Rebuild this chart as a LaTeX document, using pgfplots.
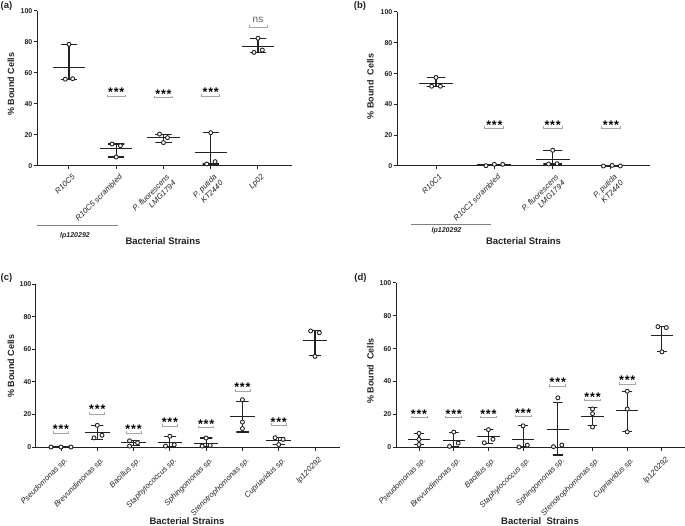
\documentclass[border=0pt]{standalone}
\usepackage{pgfplots}
\pgfplotsset{compat=1.18}
\usepackage{fontspec}
\setmainfont{Liberation Sans}
\definecolor{ink}{HTML}{222222}
\newcommand{\stars}{{\fontsize{12.5}{12.5}\selectfont\bfseries *\kern0.8pt*\kern0.8pt*}}
% #1 x, #2 star y, #3 bracket y, #4 bracket half width (pt)
\newcommand{\sig}[4]{%
  \draw[gray!70, line width=0.8pt] (axis cs:#1,#3) ++(-#4pt,2pt) -- ++(0pt,-2pt) -- ++(2*#4pt,0pt) -- ++(0pt,2pt);
  \node[inner sep=0pt, yshift=-2.5pt] at (axis cs:#1,#2) {\stars};}
\pgfplotsset{
  gp/.style={
    scale only axis, anchor=south west,
    axis x line=bottom, axis y line=left,
    axis line style={-, line width=1pt, ink},
    ymin=0, ymax=100, ytick={0,20,...,100}, minor tick num=0,
    tick align=outside, major tick length=3.5pt,
    tick style={line width=1pt, ink},
    clip=false,
    /pgf/number format/assume math mode=true,
    yticklabel style={font=\bfseries\fontsize{7}{8}\selectfont, inner sep=1pt, text=ink},
  },
  xtl/.style 2 args={xticklabel style={xshift=#1, yshift=#2, rotate=45, anchor=north east, align=right, inner sep=1pt, text=ink, font=\itshape\fontsize{7.8}{8.8}\selectfont}},
  pts/.style={only marks, mark=*, mark size=2pt, mark options={line width=0.9pt, draw=ink, fill=white}},
  frame/.style={ink, line width=1.1pt, mark=none, unbounded coords=jump},
}
\begin{document}
\begin{tikzpicture}
% ---------------- (a)
\begin{axis}[gp, xtl={2.5pt}{-2.5pt}, at={(37pt,359pt)}, width=255pt, height=155pt,
  xmin=-0.677, xmax=4.72, xtick={0,...,4},
  xticklabels={R10C5, R10C5 scrambled, {P. fluorescens\\LMG1794}, {P. putida\\KT2440}, Lp02}]
\addplot[frame] table {
x y
-0.17 78.5
0.17 78.5
0 78.5
0 56.0
-0.17 56.0
0.17 56.0
nan nan
-0.34 63.6
0.34 63.6
nan nan
0.83 14.2
1.17 14.2
1 14.2
1 5.8
0.83 5.8
1.17 5.8
nan nan
0.66 11.0
1.34 11.0
nan nan
1.83 20.6
2.17 20.6
2 20.6
2 15.1
1.83 15.1
2.17 15.1
nan nan
1.66 18.3
2.34 18.3
nan nan
2.83 21.5
3.17 21.5
3 21.5
3 1.3
2.83 1.3
3.17 1.3
nan nan
2.66 8.6
3.34 8.6
nan nan
3.83 82.4
4.17 82.4
4 82.4
4 73.3
3.83 73.3
4.17 73.3
nan nan
3.66 77.0
4.34 77.0
};
\addplot[pts] table {
x y
0 78.5
-0.078 56.0
0.078 56.3
0.912 14.2
1.088 13.1
1 5.8
1.915 20.6
2.085 18.3
2 15.1
3 21.5
2.915 1.3
3.092 2.8
4 82.4
3.915 73.3
4.092 74.8
};
\sig{1}{49}{44.7}{9}
\sig{2}{48}{44}{9}
\sig{3}{49}{45}{9}
\draw[gray!70, line width=0.8pt] (axis cs:4,89.5) ++(-9pt,2pt) -- ++(0pt,-2pt) -- ++(18pt,0pt) -- ++(0pt,2pt);
\node[text=gray!70!black, font=\fontsize{10}{10}\selectfont, inner sep=0pt] at (axis cs:4,94) {ns};
\end{axis}
% ---------------- (b)
\begin{axis}[gp, xtl={2.5pt}{-2.5pt}, at={(397pt,359pt)}, width=253pt, height=154pt,
  xmin=-0.669, xmax=3.669, xtick={0,...,3},
  xticklabels={R10C1, R10C1 scrambled, {P. fluorescens\\LMG1794}, {P. putida\\KT2440}}]
\addplot[frame] table {
x y
-0.16 57.5
0.16 57.5
0 57.5
0 51.8
-0.16 51.8
0.16 51.8
nan nan
-0.29 53.8
0.29 53.8
nan nan
0.84 1.2
1.16 1.2
1 1.2
1 0.3
0.84 0.3
1.16 0.3
nan nan
0.71 0.8
1.29 0.8
nan nan
1.84 10.2
2.16 10.2
2 10.2
2 1.3
1.84 1.3
2.16 1.3
nan nan
1.71 4.3
2.29 4.3
nan nan
2.84 0.6
3.16 0.6
3 0.6
3 0.0
2.84 0.0
3.16 0.0
nan nan
2.71 0.3
3.29 0.3
};
\addplot[pts] table {
x y
0 57.5
-0.075 51.8
0.075 51.8
0.857 0.2
1 1.1
1.143 1.1
2 10.2
1.93 1.3
2.075 1.5
2.87 0.0
3.02 0.4
3.16 0.0
};
\sig{1}{28.1}{24.4}{9.5}
\sig{2}{28.1}{24.4}{9.5}
\sig{3}{28.1}{24.4}{9.5}
\end{axis}
% ---------------- (c)
\begin{axis}[gp, xtl={3pt}{-4.5pt}, at={(36pt,78pt)}, width=304pt, height=163pt,
  xmin=-0.689, xmax=7.689, xtick={0,...,7},
  xticklabels={Pseudomonas sp., Brevundimonas sp., Bacillus sp., Staphylococcus sp., Sphingomonas sp., Stenotrophomonas sp., Cupriavidus sp., lp120292}]
\addplot[frame] table {
x y
-0.34 0
0.34 0
nan nan
0.83 13.3
1.17 13.3
1 13.3
1 4.8
0.83 4.8
1.17 4.8
nan nan
0.66 8.8
1.34 8.8
nan nan
1.83 3.9
2.17 3.9
2 3.9
2 0.7
1.83 0.7
2.17 0.7
nan nan
1.66 2.5
2.34 2.5
nan nan
2.83 6.6
3.17 6.6
3 6.6
3 0.0
2.83 0.0
3.17 0.0
nan nan
2.66 2.7
3.34 2.7
nan nan
3.83 5.5
4.17 5.5
4 5.5
4 0.0
3.83 0.0
4.17 0.0
nan nan
3.66 2.3
4.34 2.3
nan nan
4.83 27.8
5.17 27.8
5 27.8
5 9.2
4.83 9.2
5.17 9.2
nan nan
4.66 18.6
5.34 18.6
nan nan
5.83 5.9
6.17 5.9
6 5.9
6 1.5
5.83 1.5
6.17 1.5
nan nan
5.66 4.1
6.34 4.1
nan nan
6.83 71.2
7.17 71.2
7 71.2
7 56.0
6.83 56.0
7.17 56.0
nan nan
6.66 65.6
7.34 65.6
};
\addplot[pts] table {
x y
-0.275 0
0 0
0.275 0
1 13.3
0.91 5.6
1.13 7.2
1.89 3.8
1.89 0.6
2.11 2.6
3 6.6
2.88 0.6
3.12 1.4
4 5.5
3.89 0.6
4.11 1.0
5 29
5 15.3
5 11.3
5.9 5.7
6.12 4.7
6 1.5
6.88 71.2
7.12 70.1
7 55.6
};
\sig{0}{12.6}{8.3}{7.5}
\sig{1}{24.8}{20}{7.5}
\sig{2}{12.6}{8.3}{7.5}
\sig{3}{17}{12.9}{7.5}
\sig{4}{15.6}{11.9}{7.5}
\sig{5}{38.5}{34.4}{7.5}
\sig{6}{17}{13.3}{7.5}
\end{axis}
% ---------------- (d)
\begin{axis}[gp, xtl={3pt}{-4.5pt}, at={(396pt,78pt)}, width=288.5pt, height=164pt,
  xmin=-0.663, xmax=7.65, xtick={0,...,7},
  xticklabels={Pseudomonas sp., Brevundimonas sp., Bacillus sp., Staphylococcus sp., Sphingomonas sp., Stenotrophomonas sp., Cupriavidus sp., lp120292}]
\addplot[frame] table {
x y
-0.14 8.3
0.14 8.3
0 8.3
0 1.4
-0.14 1.4
0.14 1.4
nan nan
-0.32 4.8
0.32 4.8
nan nan
0.86 9.0
1.14 9.0
1 9.0
1 0.0
0.86 0.0
1.14 0.0
nan nan
0.68 4.1
1.32 4.1
nan nan
1.86 10.5
2.14 10.5
2 10.5
2 2.0
1.86 2.0
2.14 2.0
nan nan
1.68 6.2
2.32 6.2
nan nan
2.86 12.9
3.14 12.9
3 12.9
3 0.0
2.86 0.0
3.14 0.0
nan nan
2.68 4.8
3.32 4.8
nan nan
3.86 27.3
4.14 27.3
4 27.3
4 -4.9
3.86 -4.9
4.14 -4.9
nan nan
3.68 10.5
4.32 10.5
nan nan
4.86 23.9
5.14 23.9
5 23.9
5 13.2
4.86 13.2
5.14 13.2
nan nan
4.68 18.5
5.32 18.5
nan nan
5.86 34.0
6.14 34.0
6 34.0
6 9.2
5.86 9.2
6.14 9.2
nan nan
5.68 22.1
6.32 22.1
nan nan
6.86 73.4
7.14 73.4
7 73.4
7 58.0
6.86 58.0
7.14 58.0
nan nan
6.68 67.9
7.32 67.9
};
\addplot[pts] table {
x y
0 8.3
0 4.6
0 1.5
1 9.1
0.88 0.4
1.13 2.4
2 10.6
1.88 2.6
2.13 4.7
3 12.9
2.88 0.0
3.12 1.1
4 30
3.875 0.2
4.115 1.2
5 23.2
5 20.3
5 12.2
6 34
6 23.2
6 9.2
6.885 73.4
7.125 72.8
7 58
};
\sig{0}{21.8}{17.8}{8}
\sig{1}{21.8}{17.8}{8}
\sig{2}{21.8}{17.8}{8}
\sig{3}{22.4}{18.5}{8}
\sig{4}{41}{37}{8}
\sig{5}{31.9}{28.2}{8}
\sig{6}{42.5}{38.4}{8}
\end{axis}
% ---------------- annotations
\begin{scope}[every node/.style={text=ink}]
\node[font=\bfseries\fontsize{9.5}{10}\selectfont] at (6.5pt,519pt) {(a)};
\node[font=\bfseries\fontsize{9.5}{10}\selectfont] at (360pt,519pt) {(b)};
\node[font=\bfseries\fontsize{9.5}{10}\selectfont] at (6.5pt,247pt) {(c)};
\node[font=\bfseries\fontsize{9.5}{10}\selectfont] at (360.5pt,247pt) {(d)};
\node[font=\bfseries\fontsize{9}{10}\selectfont, rotate=90] at (11pt,441pt) {\% Bound Cells};
\node[font=\bfseries\fontsize{9}{10}\selectfont, rotate=90] at (370.5pt,438.5pt) {\% Bound\ \ Cells};
\node[font=\bfseries\fontsize{9}{10}\selectfont, rotate=90] at (11pt,159pt) {\% Bound Cells};
\node[font=\bfseries\fontsize{9}{10}\selectfont, rotate=90] at (370.5pt,154pt) {\% Bound\ \ Cells};
\node[font=\bfseries\fontsize{9.5}{10}\selectfont] at (163pt,284pt) {Bacterial Strains};
\node[font=\bfseries\fontsize{9.5}{10}\selectfont] at (523.5pt,284pt) {Bacterial Strains};
\node[font=\bfseries\fontsize{9.5}{10}\selectfont] at (187pt,4pt) {Bacterial Strains};
\node[font=\bfseries\fontsize{9.5}{10}\selectfont] at (540pt,4pt) {Bacterial\ \ Strains};
\draw[gray, line width=0.9pt] (37pt,300pt) -- (118pt,300pt);
\node[font=\bfseries\itshape\fontsize{7}{8}\selectfont] at (75pt,289pt) {lp120292};
\draw[gray, line width=0.9pt] (411pt,301pt) -- (491pt,301pt);
\node[font=\bfseries\itshape\fontsize{7}{8}\selectfont] at (446.5pt,294.3pt) {lp120292};
\end{scope}
\pgfresetboundingbox
\useasboundingbox (0,0) rectangle (685pt,525pt);
\end{tikzpicture}
\end{document}
